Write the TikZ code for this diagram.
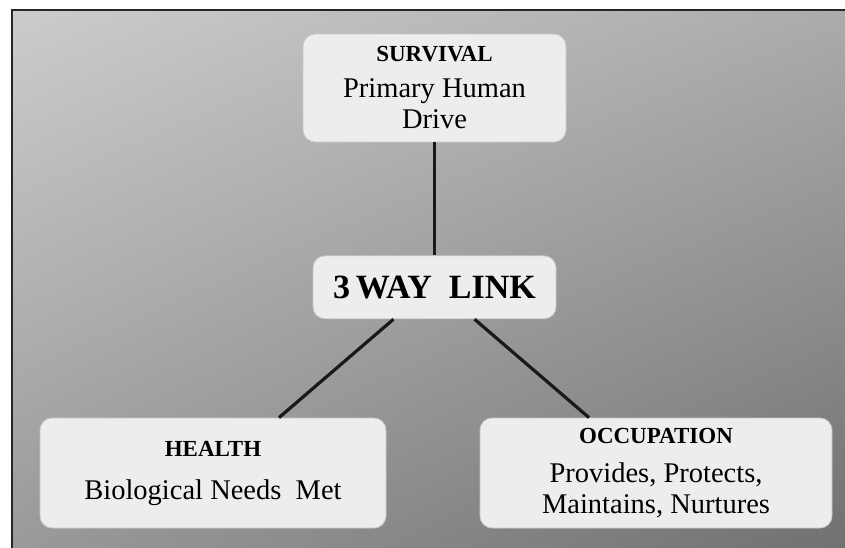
\documentclass[tikz,border=0pt]{standalone}
\usepackage{fontspec}
\setmainfont{Liberation Serif}
\usepackage{tikz}
\usetikzlibrary{
	positioning,
	shadings
}
\tikzset{
	node distance=113pt,
	panel/.style={
		rounded corners=12pt,
		fill=black!7,
		draw=black!22,
		line width=0.8pt,
		align=center,
		inner sep=0pt,
		font=\fontsize{28.5}{31}\selectfont
	},
	link/.style={
		line width=3.2pt,
		black!90
	}
}
\newcommand{\headline}[1]{{\fontsize{23}{26}\selectfont\bfseries #1}}

\begin{document}
\begin{tikzpicture}[x=1pt,y=-1pt]
		\useasboundingbox (0,0) rectangle (845,547);
		\fill[white] (0,0) rectangle (845,547);
		\shade[upper left=black!20,upper right=black!33,
			lower left=black!40,lower right=black!56]
			(12,10) rectangle (850,552);
		\draw[line width=2pt,black!85] (850,10) -- (12,10) -- (12,552);

		\node [panel,minimum width=263pt,minimum height=108pt] (survival) at (434.5,88)
			{\headline{SURVIVAL}\\[5pt]Primary Human\\Drive};
		\node [panel,minimum width=243pt,minimum height=63pt,below=of survival] (threeway)
			{\fontsize{34}{36}\selectfont\bfseries 3\,WAY\ \ LINK};
		\node [panel,minimum width=346pt,minimum height=110pt] (health) at (213,473)
			{\headline{HEALTH}\\[12pt]Biological Needs\ \ Met};
		\node [panel,minimum width=352pt,minimum height=110pt] (occupation) at (656,473)
			{\headline{OCCUPATION}\\[8pt]Provides, Protects,\\Maintains, Nurtures};

		\draw[link] (survival) -- (threeway);
		\draw[link] ([xshift=-41pt]threeway.south) -- ([xshift=66pt]health.north);
		\draw[link] ([xshift=40pt]threeway.south) -- ([xshift=-67pt]occupation.north);
	\end{tikzpicture}
\end{document}
